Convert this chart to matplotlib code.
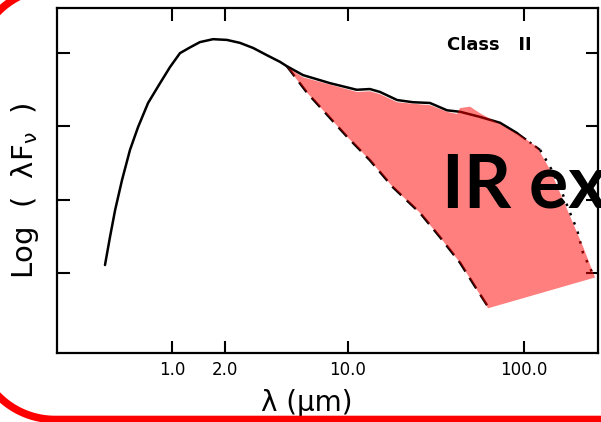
"""Class II SED sketch with IR excess overlay."""

import matplotlib

matplotlib.use("Agg")
import matplotlib.pyplot as plt
from matplotlib.patches import PathPatch, Polygon
from matplotlib.path import Path
from matplotlib.ticker import NullLocator
import numpy as np

# wavelength (micron) and log(lambda F)
SED_WAVE = [0.416, 0.444, 0.475, 0.520, 0.577, 0.641, 0.731, 0.855, 0.974, 1.11, 1.27,
            1.44, 1.71, 2.05, 2.43, 2.89, 3.47, 4.11, 4.5, 5.55, 7.9, 11.2, 13.3, 15.2,
            19.0, 23.4, 29.2, 36.5, 43.3, 56.2, 73.0, 91.2]
SED_FLUX = [0.11, 0.49, 0.86, 1.27, 1.68, 1.99, 2.32, 2.59, 2.81, 3.00, 3.08,
            3.15, 3.19, 3.18, 3.14, 3.07, 2.97, 2.88, 2.82, 2.70, 2.59, 2.50, 2.51, 2.47,
            2.36, 2.33, 2.32, 2.22, 2.20, 2.13, 2.05, 1.91]

DASHDOT_WAVE = [91.2, 104.0, 123.3]
DASHDOT_FLUX = [1.91, 1.81, 1.68]

DOTTED_WAVE = [123.3, 140.5, 160.1, 182.5, 200.1, 216.4, 243.4]
DOTTED_FLUX = [1.68, 1.45, 1.17, 0.82, 0.59, 0.27, 0.01]

PHOTO_WAVE = [4.5, 5.85, 7.21, 9.87, 13.3, 18.0, 25.65, 33.3, 43.3, 51.3, 62.45]
PHOTO_FLUX = [2.82, 2.46, 2.22, 1.86, 1.54, 1.17, 0.82, 0.49, 0.14, -0.14, -0.46]

# red "IR excess" shape drawn over the scan
EXCESS_WAVE = [4.5, 5.55, 7.9, 11.25, 13.3, 15.2, 19.0, 23.4, 29.2, 36.5, 41.6, 43.3, 49.3,
               56.2, 73.0, 94.9, 118.6, 140.5, 166.5, 189.8, 216.4, 253.2, 62.45,
               51.3, 43.3, 33.3, 25.65, 18.0, 13.3, 9.87, 7.21, 5.85]
EXCESS_FLUX = [2.81, 2.67, 2.57, 2.47, 2.48, 2.44, 2.33, 2.31, 2.29, 2.20, 2.17, 2.25, 2.27,
               2.18, 2.03, 1.88, 1.72, 1.41, 1.00, 0.68, 0.36, -0.06, -0.48,
               -0.14, 0.14, 0.49, 0.82, 1.17, 1.54, 1.86, 2.22, 2.46]

XTICKS = [1.0, 2.0, 10.0, 100.0]
XTICK_LABELS = ["1.0", "2.0", "10.0", "100.0"]
YTICKS = [0, 1, 2, 3]

W, H = 601, 422


def rounded_rect(left, top, bottom, right, radius):
    """Closed rounded rectangle in image pixels (y down)."""
    t = np.linspace(0, np.pi / 2, 40)
    xs = [right, left + radius]
    ys = [bottom, bottom]
    cx, cy = left + radius, bottom - radius
    xs += list(cx - radius * np.sin(t))
    ys += list(cy + radius * np.cos(t))
    cx, cy = left + radius, top + radius
    xs += list(cx - radius * np.cos(t))
    ys += list(cy - radius * np.sin(t))
    xs += [right, right]
    ys += [top, bottom]
    return np.column_stack([np.array(xs) / W, (H - np.array(ys)) / H])


def frame_path(left, top, bottom, right, radius, half_width):
    outer = rounded_rect(left - half_width, top - half_width, bottom + half_width,
                         right + half_width, radius + half_width)
    inner = rounded_rect(left + half_width, top + half_width, bottom - half_width,
                         right - half_width, radius - half_width)[::-1]
    verts = np.vstack([outer, inner])
    codes = ([Path.MOVETO] + [Path.LINETO] * (len(outer) - 2) + [Path.CLOSEPOLY]
             + [Path.MOVETO] + [Path.LINETO] * (len(inner) - 2) + [Path.CLOSEPOLY])
    return Path(verts, codes)


def main() -> None:
    fig = plt.figure(figsize=(W / 100, H / 100), dpi=100, facecolor="white")
    ax = fig.add_axes([0.0948, 0.1635, 0.9002, 0.8175])

    ax.plot(SED_WAVE, SED_FLUX, color="black", lw=1.8, solid_capstyle="round",
            solid_joinstyle="round")
    ax.plot(DASHDOT_WAVE, DASHDOT_FLUX, color="black", lw=1.6, ls=(0, (5, 2, 1, 2)))
    ax.plot(DOTTED_WAVE, DOTTED_FLUX, color="black", lw=1.8, ls=(0, (1, 3)))
    ax.plot(PHOTO_WAVE, PHOTO_FLUX, color="black", lw=1.8, ls=(0, (5, 3)))

    poly = Polygon(np.column_stack([EXCESS_WAVE, EXCESS_FLUX]), closed=True,
                   facecolor="red", alpha=0.5, edgecolor="none", zorder=5)
    ax.add_patch(poly)

    ax.set_xscale("log")
    ax.set_xlim(0.222, 263)
    ax.set_ylim(-1.09, 3.615)
    ax.set_xticks(XTICKS)
    ax.set_xticklabels(XTICK_LABELS)
    ax.xaxis.set_minor_locator(NullLocator())
    ax.set_yticks(YTICKS)
    ax.set_yticklabels([])
    ax.tick_params(direction="in", length=9, width=1.5, top=True, right=True,
                   labelsize=12, pad=6)
    for spine in ax.spines.values():
        spine.set_linewidth(1.6)

    ax.set_xlabel("λ (μm)", fontsize=20)
    ax.xaxis.set_label_coords(0.462, -0.105)
    ax.set_ylabel("Log  (  λF$_\\mathregular{ν}$  )", fontsize=21)
    ax.yaxis.set_label_coords(-0.03, 0.47)

    ax.text(0.721, 0.878, "Class   II", transform=ax.transAxes, fontsize=13,
            fontweight="bold", va="baseline")

    fig.text(442 / W, (H - 208) / H, "IR ex", fontfamily="Lato",
             fontweight="bold", fontsize=53, va="baseline", ha="left", zorder=10)

    frame = PathPatch(frame_path(-25, -12, 419.5, 700, 80, 3.8),
                      transform=fig.transFigure, facecolor="#FF0000",
                      edgecolor="none", zorder=20)
    fig.add_artist(frame)

    fig.savefig("out.png", dpi=100, facecolor="white")
    plt.close(fig)


if __name__ == "__main__":
    main()
